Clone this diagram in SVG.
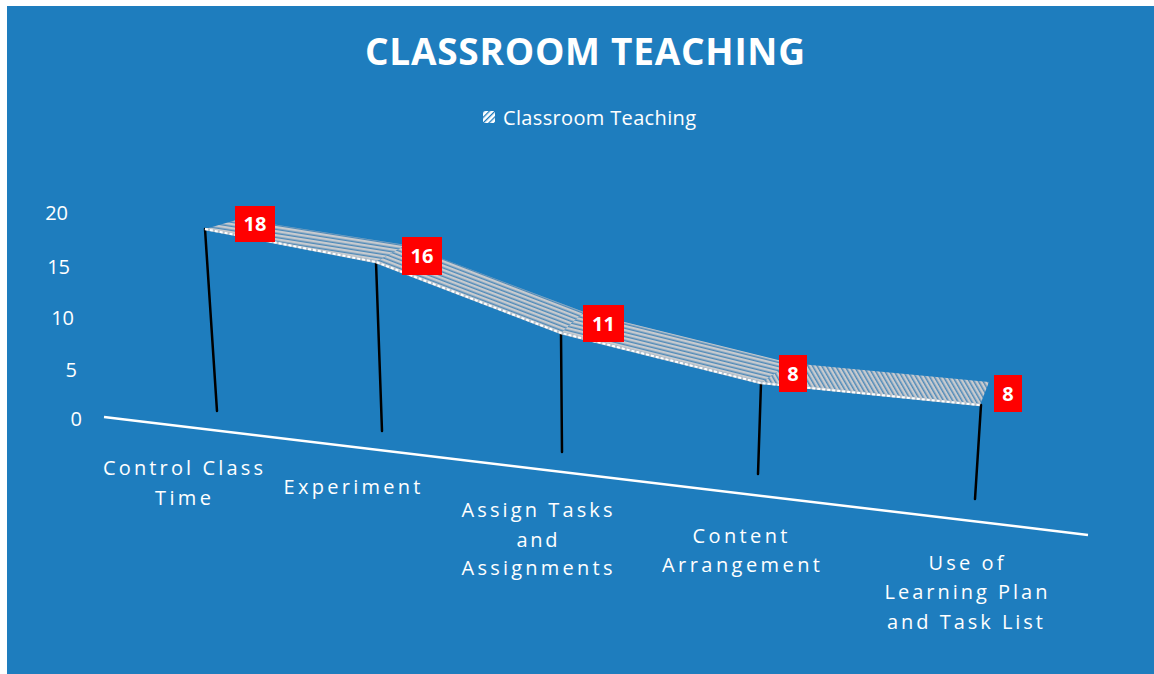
<svg xmlns="http://www.w3.org/2000/svg" width="1154" height="674" viewBox="0 0 1154 674">
  <defs>
    <style>
      .t { font-family: "Open Sans", "Liberation Sans", sans-serif; fill: #ffffff; }
      .title { font-size: 37px; font-weight: bold; }
      .leg { font-size: 20px; }
      .ax { font-size: 20px; text-anchor: end; }
      .cat { font-size: 20px; text-anchor: middle; }
      .lbl { font-size: 20px; font-weight: bold; text-anchor: middle; }
      .box { fill: #ff0000; }
      .drop { stroke: #000000; stroke-width: 2.5; fill: none; stroke-linecap: round; }
      .front { stroke: #ffffff; stroke-width: 2; stroke-dasharray: 3 2; fill: none; }
      .frontbase { stroke: #b9c3cc; stroke-width: 2.5; fill: none; }
    </style>
    <pattern id="hatch" width="4" height="4" patternUnits="userSpaceOnUse">
      <rect width="4" height="4" fill="#4f8ab8"/>
      <rect width="4" height="2.5" fill="#c8cbcf"/>
    </pattern>
    <pattern id="h1" href="#hatch" patternTransform="rotate(9)"/>
    <pattern id="h2" href="#hatch" patternTransform="rotate(21)"/>
    <pattern id="h3" href="#hatch" patternTransform="rotate(14)"/>
    <pattern id="h4" href="#hatch" patternTransform="rotate(60)"/>
    <pattern id="hleg" width="4" height="4" patternUnits="userSpaceOnUse" patternTransform="rotate(-45)">
      <rect width="4" height="4" fill="#ffffff"/>
      <rect width="4" height="1.3" fill="#1e7dbe"/>
    </pattern>
  </defs>

  <rect id="background" x="7" y="6" width="1147" height="668" fill="#1e7dbe"/>

  <g id="title">
    <text class="t title" x="585" y="65" text-anchor="middle" textLength="440" lengthAdjust="spacing">CLASSROOM TEACHING</text>
  </g>

  <g id="legend">
    <rect x="483" y="111" width="12" height="12" fill="url(#hleg)"/>
    <text class="t leg" x="503" y="125" textLength="193" lengthAdjust="spacing">Classroom Teaching</text>
  </g>

  <g id="value-axis">
    <text class="t ax" x="68" y="220">20</text>
    <text class="t ax" x="70" y="274">15</text>
    <text class="t ax" x="74" y="325">10</text>
    <text class="t ax" x="77" y="377">5</text>
    <text class="t ax" x="82" y="426">0</text>
  </g>

  <g id="floor-line">
    <line x1="104" y1="417" x2="1088" y2="535" stroke="#ffffff" stroke-width="2.5"/>
  </g>

  <g id="drop-lines">
    <line class="drop" x1="205" y1="229" x2="217" y2="411"/>
    <line class="drop" x1="376" y1="262" x2="382" y2="431"/>
    <line class="drop" x1="561" y1="333" x2="562" y2="452"/>
    <line class="drop" x1="761" y1="383" x2="758" y2="474"/>
    <line class="drop" x1="981" y1="405" x2="975" y2="499"/>
  </g>

  <g id="ribbon">
    <polygon points="205,229 376,262 406,245 240,219" fill="url(#h1)"/>
    <polygon points="376,262 561,333 584,312 406,245" fill="url(#h2)"/>
    <polygon points="561,333 761,383 790,363 584,312" fill="url(#h3)"/>
    <polygon points="761,383 980,405 989,382 790,363" fill="url(#h4)"/>
    <polyline class="frontbase" points="205,229 376,262 561,333 761,383 980,405"/>
    <polyline class="front" points="205,229 376,262 561,333 761,383 980,405"/>
  </g>

  <g id="data-labels">
    <g id="label-1">
      <rect class="box" x="235" y="206" width="40" height="36"/>
      <text class="t lbl" x="255" y="231">18</text>
    </g>
    <g id="label-2">
      <rect class="box" x="402" y="237" width="40" height="38"/>
      <text class="t lbl" x="422" y="263">16</text>
    </g>
    <g id="label-3">
      <rect class="box" x="583" y="305" width="41" height="37"/>
      <text class="t lbl" x="603.5" y="331">11</text>
    </g>
    <g id="label-4">
      <rect class="box" x="779" y="355" width="28" height="37"/>
      <text class="t lbl" x="793" y="381">8</text>
    </g>
    <g id="label-5">
      <rect class="box" x="994" y="375" width="28" height="37"/>
      <text class="t lbl" x="1008" y="401">8</text>
    </g>
  </g>

  <g id="category-axis">
    <text class="t cat" x="183" y="475" textLength="160" lengthAdjust="spacing">Control Class</text>
    <text class="t cat" x="183" y="505" textLength="56" lengthAdjust="spacing">Time</text>
    <text class="t cat" x="352" y="494" textLength="137" lengthAdjust="spacing">Experiment</text>
    <text class="t cat" x="537" y="517" textLength="151" lengthAdjust="spacing">Assign Tasks</text>
    <text class="t cat" x="537" y="547" textLength="41" lengthAdjust="spacing">and</text>
    <text class="t cat" x="537" y="575" textLength="151" lengthAdjust="spacing">Assignments</text>
    <text class="t cat" x="740" y="543" textLength="95" lengthAdjust="spacing">Content</text>
    <text class="t cat" x="741" y="572" textLength="158" lengthAdjust="spacing">Arrangement</text>
    <text class="t cat" x="966" y="570" textLength="75" lengthAdjust="spacing">Use of</text>
    <text class="t cat" x="966" y="599" textLength="163" lengthAdjust="spacing">Learning Plan</text>
    <text class="t cat" x="965" y="629" textLength="156" lengthAdjust="spacing">and Task List</text>
  </g>
</svg>
